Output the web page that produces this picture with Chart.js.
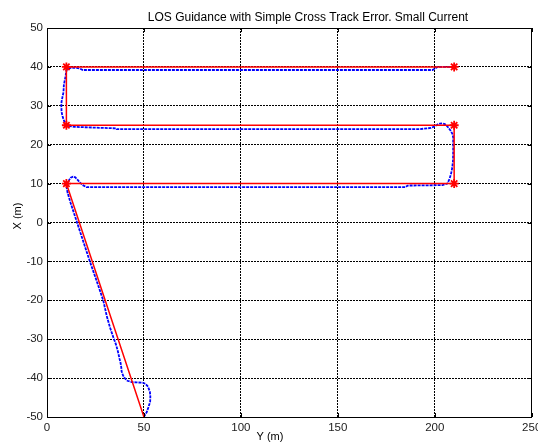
<!DOCTYPE html>
<html>
<head>
<meta charset="utf-8">
<script src="https://cdn.jsdelivr.net/npm/chart.js@4/dist/chart.umd.min.js"></script>
<style>
  html, body { margin: 0; padding: 0; background: #fff; }
  #wrap { width: 538px; height: 446px; }
</style>
</head>
<body>
<div id="wrap"><canvas id="los-chart" width="538" height="446"></canvas></div>
<script>
; (function() {

	// waypoints (Y east, X north)
	var wayY = [50, 10, 210, 210, 10, 10, 210]
	var wayX = [-50, 10, 10, 25, 25, 40, 40]
	var wayMark = [0, 4.5, 4.5, 4.5, 4.5, 4.5, 4.5]

	// simulated vessel track
	var trackY = [50, 50.4, 51.4, 52.3, 53.2, 53.3, 53.1, 52.1, 50.8, 49.6, 46, 43.6, 41.5, 40.1, 39.2, 38.5, 38.3, 37.9, 37.4, 36.6, 35.6, 34.2, 32.5, 30.8, 29.0, 25.6, 22.1, 18.8, 15.5, 12.2, 10.6, 10.2, 10.6, 11.4, 12.2, 13.4, 14.6, 15.7, 17.2, 18.5, 20.3,
		185, 186, 204, 206.5, 207.6, 208.4, 209, 209.4, 209.5, 209.5, 209.1, 208.2, 206.5, 205.2, 203.9, 202.6, 201.4, 199.8, 198, 192,
		36, 35.8, 18.6, 14, 11.8, 10.6, 9.8, 8.9, 8.4, 7.9, 7.5, 7.4, 7.5, 8, 8.5, 8.7, 9.1, 9.5, 9.8, 10, 10.6, 11.7, 14.3, 16.8, 18.5, 198.8, 200.2, 201.4, 209]
	var trackX = [-50, -49.6, -48.8, -47.5, -46.1, -44.8, -43.6, -42.2, -41.5, -41.2, -41.1, -41, -40.7, -40, -39.3, -38.3, -37.2, -36, -35, -33.2, -31.4, -29.5, -27, -24, -20, -15, -10, -5, 0, 5, 7.7, 8.8, 9.9, 10.9, 11.5, 11.8, 11.6, 11, 10.2, 9.6, 9.1,
		9.1, 9.5, 9.6, 10, 11.2, 12.5, 14, 15.8, 18, 21.9, 22.8, 23.6, 24.7, 25.3, 25.5, 25.4, 25.2, 24.7, 24.3, 24.0,
		24.0, 24.2, 24.5, 24.6, 24.8, 25.1, 25.4, 26, 26.7, 27.5, 28.5, 30, 31, 32.3, 33.5, 35.3, 36.4, 37.4, 38.3, 39.1, 39.5, 39.7, 39.8, 39.6, 39.2, 39.2, 39.6, 40, 40]

	var xTicks = [0, 50, 100, 150, 200, 250]
	var yTicks = [-50, -40, -30, -20, -10, 0, 10, 20, 30, 40, 50]

	var titleText = 'LOS Guidance with Simple Cross Track Error. Small Current'
	var xLabel = 'Y (m)'
	var yLabel = 'X (m)'

	function pts(xs, ys) {
		return xs.map(function(v, i) { return { x: v, y: ys[i] } })
	}

	var font = "'Liberation Sans', Arial, sans-serif"

	// box, inward ticks and the three labels, placed as in the original figure
	var framePlugin = {
		id: 'frame',
		afterDraw: function(chart) {
			var ctx = chart.ctx
			var a = chart.chartArea
			var sx = chart.scales.x, sy = chart.scales.y
			ctx.save()
			ctx.strokeStyle = '#000'
			ctx.lineWidth = 1
			ctx.setLineDash([])
			ctx.strokeRect(Math.round(a.left) + 0.5, Math.round(a.top) + 0.5, Math.round(a.right - a.left) - 1, Math.round(a.bottom - a.top))
			ctx.beginPath()
			xTicks.forEach(function(t) {
				var p = Math.round(sx.getPixelForValue(t)) + 0.5
				ctx.moveTo(p, a.bottom); ctx.lineTo(p, a.bottom - 4)
				ctx.moveTo(p, a.top); ctx.lineTo(p, a.top + 4)
			})
			yTicks.forEach(function(t) {
				var p = Math.round(sy.getPixelForValue(t)) + 0.5
				ctx.moveTo(a.left, p); ctx.lineTo(a.left + 4, p)
				ctx.moveTo(a.right, p); ctx.lineTo(a.right - 4, p)
			})
			ctx.stroke()

			ctx.fillStyle = '#000'
			ctx.textAlign = 'center'
			ctx.textBaseline = 'alphabetic'
			ctx.font = '12px ' + font
			ctx.fillText(titleText, 308, 20.5)
			ctx.font = '11px ' + font
			ctx.textBaseline = 'middle'
			ctx.fillText(xLabel, 270, 437)
			ctx.translate(18, 216)
			ctx.rotate(-Math.PI / 2)
			ctx.fillText(yLabel, 0, 0)
			ctx.restore()
		}
	}

	var config = {
		type: 'scatter',
		data: {
			datasets: [
				{
					label: 'path',
					data: pts(wayY, wayX),
					showLine: true,
					borderColor: '#ff0000',
					backgroundColor: '#ff0000',
					borderWidth: 1.5,
					pointStyle: 'star',
					pointRadius: wayMark,
					pointBorderWidth: 1.8,
					order: 0,
				},
				{
					label: 'track',
					data: pts(trackY, trackX),
					showLine: true,
					borderColor: '#0000ff',
					borderWidth: 1.8,
					borderDash: [3, 1],
					pointRadius: 0,
					tension: 0,
					order: 1,
				},
			],
		},
		options: {
			responsive: false,
			animation: false,
			layout: { padding: { left: 0, right: 1, top: 28, bottom: 0 } },
			plugins: {
				legend: { display: false },
				tooltip: { enabled: false },
				title: { display: false },
			},
			scales: {
				x: {
					type: 'linear',
					min: 0,
					max: 250,
					afterBuildTicks: function(s) { s.ticks = xTicks.map(function(v) { return { value: v } }) },
					afterFit: function(s) { s.height = 29; s.paddingLeft = 0; s.paddingRight = 0 },
					ticks: { color: '#222', font: { family: font, size: 11.5 }, padding: 4, maxRotation: 0 },
					grid: { color: '#000', drawTicks: false, tickLength: 0 },
					border: { display: false, dash: [2, 1] },
				},
				y: {
					type: 'linear',
					min: -50,
					max: 50,
					afterBuildTicks: function(s) { s.ticks = yTicks.map(function(v) { return { value: v } }) },
					afterFit: function(s) { s.width = 47; s.paddingTop = 0; s.paddingBottom = 0 },
					ticks: { color: '#222', font: { family: font, size: 11.5 }, padding: 4 },
					grid: { color: '#000', drawTicks: false, tickLength: 0 },
					border: { display: false, dash: [2, 1] },
				},
			},
		},
		plugins: [framePlugin],
	}

	const ctx = document.getElementById('los-chart')
	let chart = new Chart(ctx, config)
})()
</script>
</body>
</html>
